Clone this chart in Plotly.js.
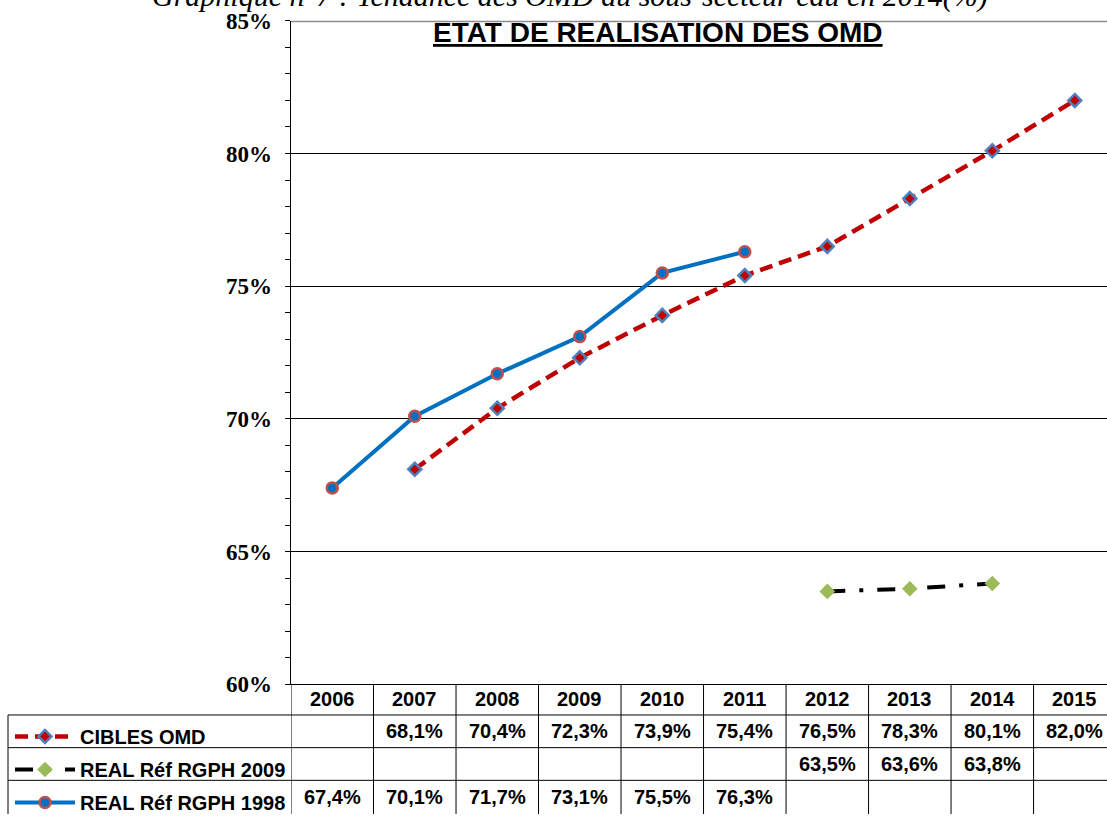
<!DOCTYPE html>
<html>
<head>
<meta charset="utf-8">
<script src="https://cdn.plot.ly/plotly-3.0.1.min.js"></script>
<style>
  html, body { margin: 0; padding: 0; background: #fff; }
  #plot { width: 1107px; height: 822px; }
</style>
</head>
<body>
<div id="plot"></div>
<script>
// data (values in %)
var years = ["2006", "2007", "2008", "2009", "2010", "2011", "2012", "2013", "2014", "2015"];
var ciblesOmd = [null, 68.1, 70.4, 72.3, 73.9, 75.4, 76.5, 78.3, 80.1, 82.0];
var realRgph2009 = [null, null, null, null, null, null, 63.5, 63.6, 63.8, null];
var realRgph1998 = [67.4, 70.1, 71.7, 73.1, 75.5, 76.3, null, null, null, null];
var seriesNames = ["CIBLES OMD", "REAL Réf RGPH 2009", "REAL Réf RGPH 1998"];
var yTicks = [60, 65, 70, 75, 80, 85];
var yTickText = ["60%", "65%", "70%", "75%", "80%", "85%"];

var W = 1107, H = 822;
var sans = "'Liberation Sans', Arial, sans-serif";
var serif = "'Liberation Serif', 'Times New Roman', serif";

// pixel helpers for the layout (paper coords)
function px(x) { return x / W; }
function py(y) { return (H - y) / H; }

var plotLeft = 291, plotTop = 21, plotBottom = 691;

var trace1 = {
  x: years, y: ciblesOmd, name: seriesNames[0], type: "scatter", mode: "lines+markers",
  legendgroup: "a",
  line: { color: "#C00000", width: 4.5, dash: "13px,7px" },
  marker: { symbol: "diamond", size: 10, color: "#C00000", line: { color: "#4F81BD", width: 2.5 } }
};
var trace2 = {
  x: years, y: realRgph2009, name: seriesNames[1], type: "scatter", mode: "lines+markers",
  legendgroup: "b",
  line: { color: "#000000", width: 4, dash: "18px,14px,4px,14px" },
  marker: { symbol: "diamond", size: 12, color: "#9BBB59", line: { color: "#9BBB59", width: 0 } }
};
var trace3 = {
  x: years, y: realRgph1998, name: seriesNames[2], type: "scatter", mode: "lines+markers",
  legendgroup: "c",
  line: { color: "#0070C0", width: 4 },
  marker: { symbol: "circle", size: 11, color: "#0070C0", line: { color: "#C0504D", width: 2.5 } }
};

function fmt(v) { return v.toFixed(1).replace(".", ",") + "%"; }

var cellFont = { family: sans, size: 20, weight: "bold", color: "#000" };

// table below the plot (x = category index on the x axis)
var rowCenters = [738.5, 771.5, 805];
var rowData = [ciblesOmd, realRgph2009, realRgph1998];
var annotations = [];
rowData.forEach(function (vals, k) {
  vals.forEach(function (v, i) {
    if (v === null) return;
    annotations.push({
      x: i, xref: "x", y: py(rowCenters[k]), yref: "paper",
      text: fmt(v), showarrow: false, xanchor: "center", yanchor: "middle",
      font: cellFont
    });
  });
});
years.forEach(function (yr, i) {
  annotations.push({
    x: i, xref: "x", y: py(706), yref: "paper",
    text: yr, showarrow: false, xanchor: "center", yanchor: "middle",
    font: cellFont
  });
});
// title + clipped caption
annotations.push({
  x: px(658), xref: "paper", y: py(33), yref: "paper",
  text: "<u>ETAT DE REALISATION DES OMD</u>", showarrow: false,
  xanchor: "center", yanchor: "middle",
  font: { family: sans, size: 28, weight: "bold", color: "#000" }
});
annotations.push({
  x: px(570), xref: "paper", y: py(-4), yref: "paper",
  text: "<i>Graphique n°7 : Tendance des OMD du sous-secteur eau en 2014(%)</i>", showarrow: false,
  xanchor: "center", yanchor: "middle",
  font: { family: serif, size: 30, color: "#000" }
});

var shapes = [];
var lineStyle = { color: "#000", width: 1 };
[722, 755, 788].forEach(function (y) {
  shapes.push({ type: "line", xref: "paper", yref: "paper", x0: px(8), x1: 1, y0: py(y), y1: py(y), line: lineStyle });
});
// column separators follow the category axis
for (var i = 0; i <= years.length; i++) {
  shapes.push({ type: "line", xref: "x", yref: "paper", x0: i - 0.5, x1: i - 0.5, y0: 0, y1: py(plotBottom), line: lineStyle });
}
shapes.push({ type: "line", xref: "paper", yref: "paper", x0: px(8), x1: px(8), y0: 0, y1: py(722), line: lineStyle });
// grey frame line at the top of the plot area
shapes.push({ type: "line", xref: "paper", yref: "y", x0: px(plotLeft), x1: 1, y0: 85, y1: 85, line: { color: "#8C8C8C", width: 3 } });

var layout = {
  width: W, height: H,
  margin: { l: 0, r: 0, t: 0, b: 0 },
  paper_bgcolor: "#fff", plot_bgcolor: "#fff",
  showlegend: true,
  legend: {
    x: px(10), xanchor: "left", y: py(724), yanchor: "top",
    traceorder: "grouped", tracegroupgap: 4, itemwidth: 60,
    bgcolor: "rgba(0,0,0,0)",
    font: { family: sans, size: 20, weight: "bold", color: "#000" }
  },
  xaxis: {
    type: "category", domain: [px(plotLeft), 1],
    range: [-0.5, 9.39],
    showticklabels: false, ticks: "",
    showgrid: false, zeroline: false,
    showline: true, linecolor: "#000", linewidth: 1
  },
  yaxis: {
    domain: [py(plotBottom), py(plotTop)],
    range: [60, 85], tickvals: yTicks, ticktext: yTickText,
    ticks: "outside", ticklen: 5, tickcolor: "#000", tickwidth: 1,
    minor: { dtick: 1, ticks: "outside", ticklen: 5, tickcolor: "#000", showgrid: false },
    ticklabelstandoff: 8,
    tickfont: { family: serif, size: 23, weight: "bold", color: "#000" },
    showgrid: true, gridcolor: "#000", gridwidth: 1,
    zeroline: false, showline: true, linecolor: "#000", linewidth: 1.5
  },
  annotations: annotations,
  shapes: shapes
};

Plotly.newPlot("plot", [trace1, trace2, trace3], layout, { staticPlot: true });
</script>
</body>
</html>
